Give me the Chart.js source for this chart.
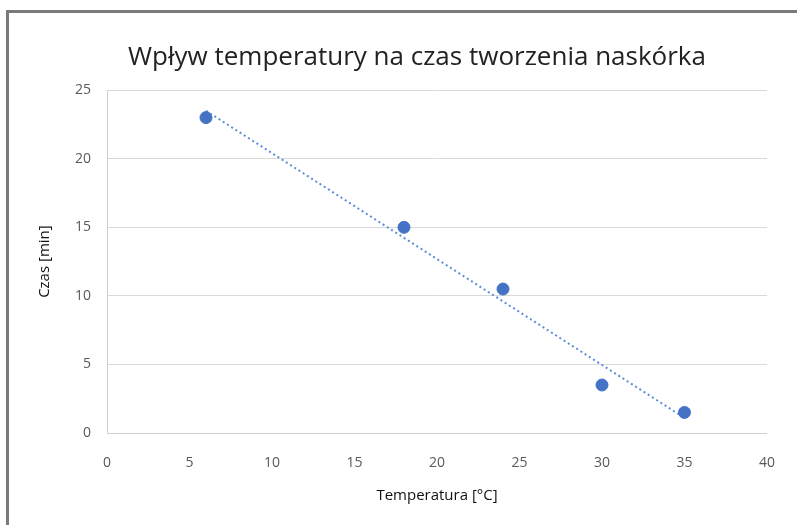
<!DOCTYPE html>
<html>
<head>
<meta charset="utf-8">
<script src="https://cdn.jsdelivr.net/npm/chart.js@4/dist/chart.umd.min.js"></script>
<style>
  body { margin: 0; background: #fff; }
  #wrap { position: relative; width: 797px; height: 525px; overflow: hidden; }
  #frame { position: absolute; left: 6px; top: 10px; width: 900px; height: 700px;
           border-top: 3px solid #7a7a7a; border-left: 3px solid #7a7a7a; }
  #chart { position: absolute; left: 0; top: 0; }
</style>
</head>
<body>
<div id="wrap">
  <div id="frame"></div>
  <canvas id="chart" width="797" height="525"></canvas>
</div>
<script>
// data
const temperatures = [6, 18, 24, 30, 35];
const times = [23, 15, 10.5, 3.5, 1.5];
// trendline end points
const trendX = [6, 35];
const trendY = [23.5, 1.1];

const fontName = '"Open Sans", Lato, sans-serif';

var timeChart;

function drawTimeChart() {
    const ctx = document.getElementById('chart');

    const points = temperatures.map((t, i) => ({ x: t, y: times[i] }));
    const trend = trendX.map((t, i) => ({ x: t, y: trendY[i] }));

    timeChart = new Chart(ctx, {
        type: 'scatter',
        data: {
            datasets: [{
                label: 'Czas',
                data: points,
                backgroundColor: '#4472C4',
                borderColor: '#4472C4',
                pointRadius: 6,
                pointHoverRadius: 6,
                order: 1
            }, {
                label: 'Trend',
                type: 'line',
                data: trend,
                borderColor: '#5B8DD9',
                borderWidth: 2,
                borderDash: [2, 3],
                pointRadius: 0,
                fill: false,
                order: 2
            }]
        },
        options: {
            responsive: false,
            animation: false,
            layout: { padding: { left: 66, right: 29, top: 0, bottom: 0 } },
            plugins: {
                legend: { display: false },
                tooltip: { enabled: false },
                title: {
                    display: true,
                    text: 'Wpływ temperatury na czas tworzenia naskórka',
                    color: '#222',
                    font: { family: fontName, size: 26, weight: 'normal' },
                    padding: { top: 42, bottom: 17 }
                }
            },
            scales: {
                x: {
                    type: 'linear',
                    min: 0,
                    max: 40,
                    afterFit: s => { s.height = 92; },
                    ticks: {
                        stepSize: 5,
                        color: '#595959',
                        font: { family: fontName, size: 14 },
                        padding: 22
                    },
                    grid: { display: false, drawTicks: false },
                    border: { display: true, color: '#d0d0d0', width: 1 },
                    title: {
                        display: true,
                        text: 'Temperatura [°C]',
                        color: '#111',
                        font: { family: fontName, size: 15 },
                        padding: { top: 10, bottom: 20 }
                    }
                },
                y: {
                    min: 0,
                    max: 25,
                    afterFit: s => { s.width = 41; },
                    ticks: {
                        stepSize: 5,
                        color: '#595959',
                        font: { family: fontName, size: 14 },
                        padding: 16
                    },
                    grid: { color: '#d9d9d9', drawTicks: false },
                    border: { display: true, color: '#d0d0d0', width: 1 },
                    title: {
                        display: true,
                        text: 'Czas [min]',
                        color: '#111',
                        font: { family: fontName, size: 15 },
                        padding: { top: -30, bottom: 0 }
                    }
                }
            }
        }
    });
}

drawTimeChart();
</script>
</body>
</html>
